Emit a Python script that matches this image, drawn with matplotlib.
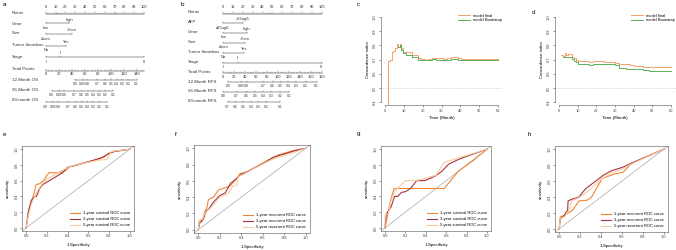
import numpy as np
import matplotlib
matplotlib.use("Agg")
import matplotlib.pyplot as plt

plt.rcParams["font.family"] = ["Liberation Sans", "DejaVu Sans"]

W, H = 676, 250
FS = 3.2

# ---------------- nomogram a (OS) ----------------
a_gene = [("low", 0), ("high", 24)]
a_size = [("\u22645cm", 0), (">5cm", 27)]
a_thrombus = [("No", 0), ("Yes", 21)]
a_stage = [("I", 0), ("II", 15), ("III", 100)]
a_total_max = 150
a_surv_labels = ["0.9", "0.85", "0.8", "0.7", "0.6", "0.5", "0.4", "0.3", "0.2", "0.1"]
a_os12 = [44.7, 56.4, 63.6, 78.8, 90.5, 99.7, 108.3, 117.0, 126.0, 138.8]
a_os36 = [9.2, 20.8, 28.0, 43.2, 55.0, 64.0, 72.7, 81.4, 90.4, 103.2]
a_os60 = [0.0, 11.6, 18.8, 34.0, 45.8, 55.0, 63.6, 72.3, 81.3, 94.0]

# ---------------- nomogram b (RFS) ----------------
b_afp = [("\u226425ug/L", 0), (">25ug/L", 20)]
b_gene = [("low", 0), ("high", 24)]
b_size = [("\u22645cm", 0), (">5cm", 22)]
b_thrombus = [("No", 0), ("Yes", 21)]
b_stage = [("I", 0), ("II", 14.6), ("III", 100)]
b_total_max = 180
b_rfs12_labels = ["0.9", "0.85", "0.8", "0.7", "0.6", "0.5", "0.4", "0.3", "0.2", "0.1"]
b_rfs12 = [9.2, 32.3, 42.7, 73.2, 90.3, 104.9, 118.9, 133.0, 150.6, 170.8]
b_rfs36_labels = ["0.8", "0.7", "0.6", "0.5", "0.4", "0.3", "0.2", "0.1"]
b_rfs36 = [0.0, 24.4, 42.7, 58.0, 73.2, 87.3, 103.7, 120.2]
b_rfs60_labels = ["0.7", "0.6", "0.5", "0.4", "0.3", "0.2", "0.1"]
b_rfs60 = [7.9, 22.6, 36.6, 50.6, 64.0, 78.0, 103.7]

# ---------------- concordance index c, d ----------------
c_time = [1.0, 1.8, 2.5, 3.5, 4.5, 5.5, 6.2, 7.0, 7.8, 8.5, 9.5, 11, 13, 14.5, 16, 17.5,
          19, 21, 23, 25, 27, 29, 31, 33, 35, 37, 39, 40.5, 45, 50, 55, 60]
c_final = [0.35, 0.69, 0.70, 0.75, 0.76, 0.78, 0.81, 0.79, 0.81, 0.78, 0.755, 0.75, 0.75,
           0.73, 0.73, 0.71, 0.705, 0.70, 0.705, 0.71, 0.71, 0.71, 0.705, 0.71, 0.715,
           0.715, 0.71, 0.705, 0.705, 0.705, 0.705, 0.705]
c_boot = [np.nan, np.nan, np.nan, np.nan, np.nan, np.nan, np.nan, 0.79, 0.80, 0.77, 0.745,
          0.735, 0.735, 0.72, 0.715, 0.70, 0.695, 0.70, 0.70, 0.705, 0.70, 0.70, 0.70,
          0.70, 0.705, 0.705, 0.70, 0.695, 0.695, 0.695, 0.695, 0.695]

d_time = [1, 2, 3, 4, 5, 6, 7, 8, 9, 10, 12, 14, 16, 18, 20, 22, 24, 26, 28, 30, 32, 34,
          36, 38, 40, 42, 45, 48, 52, 56, 60]
d_final = [0.735, 0.725, 0.745, 0.735, 0.74, 0.74, 0.72, 0.71, 0.70, 0.69, 0.69, 0.69,
           0.685, 0.69, 0.69, 0.69, 0.685, 0.685, 0.685, 0.675, 0.665, 0.665, 0.665,
           0.66, 0.655, 0.655, 0.65, 0.645, 0.645, 0.645, 0.645]
d_boot = [np.nan, 0.72, 0.715, 0.715, 0.715, 0.715, 0.705, 0.69, 0.68, 0.67, 0.665, 0.665,
          0.66, 0.665, 0.665, 0.67, 0.665, 0.665, 0.665, 0.66, 0.64, 0.64, 0.635, 0.635,
          0.635, 0.63, 0.625, 0.62, 0.62, 0.62, 0.62]

# ---------------- ROC curves e-h ----------------
e_fpr1 = [0, 0.016, 0.03, 0.064, 0.096, 0.128, 0.176, 0.19, 0.22, 0.32, 0.37, 0.43, 0.53, 0.69, 0.78, 0.85, 1]
e_tpr1 = [0, 0.127, 0.25, 0.38, 0.55, 0.56, 0.61, 0.65, 0.70, 0.70, 0.72, 0.78, 0.82, 0.865, 0.93, 0.97, 1]
e_fpr3 = [0, 0.02, 0.05, 0.08, 0.10, 0.13, 0.16, 0.25, 0.35, 0.40, 0.5, 0.6, 0.75, 0.80, 0.85, 1]
e_tpr3 = [0, 0.2, 0.35, 0.40, 0.40, 0.50, 0.55, 0.62, 0.70, 0.77, 0.80, 0.84, 0.90, 0.95, 0.97, 1]
e_fpr5 = [0, 0.02, 0.05, 0.10, 0.15, 0.20, 0.28, 0.36, 0.45, 0.55, 0.70, 0.78, 0.82, 1]
e_tpr5 = [0, 0.15, 0.30, 0.45, 0.55, 0.62, 0.68, 0.74, 0.79, 0.82, 0.86, 0.87, 0.97, 1]

f_fpr1 = [0, 0.01, 0.04, 0.06, 0.08, 0.094, 0.14, 0.19, 0.24, 0.30, 0.35, 0.39, 0.44, 0.63, 0.75, 0.88, 1]
f_tpr1 = [0, 0.11, 0.12, 0.22, 0.27, 0.37, 0.40, 0.49, 0.51, 0.54, 0.62, 0.69, 0.70, 0.84, 0.92, 0.97, 1]
f_fpr3 = [0, 0.01, 0.03, 0.05, 0.07, 0.10, 0.13, 0.17, 0.20, 0.25, 0.30, 0.35, 0.40, 0.45, 0.6, 0.7, 0.8, 0.9, 1]
f_tpr3 = [0, 0.08, 0.10, 0.14, 0.22, 0.26, 0.32, 0.38, 0.42, 0.45, 0.57, 0.62, 0.68, 0.71, 0.81, 0.89, 0.93, 0.97, 1]
f_fpr5 = [0, 0.01, 0.04, 0.06, 0.10, 0.14, 0.20, 0.25, 0.28, 0.32, 0.36, 0.37, 0.42, 0.5, 0.62, 0.7, 0.85, 1]
f_tpr5 = [0, 0.12, 0.13, 0.20, 0.25, 0.30, 0.40, 0.42, 0.45, 0.53, 0.55, 0.65, 0.68, 0.74, 0.82, 0.87, 0.93, 1]

g_fpr1 = [0, 0.03, 0.06, 0.09, 0.58, 0.72, 0.86, 1]
g_tpr1 = [0, 0.2, 0.38, 0.5, 0.5, 0.72, 0.85, 1]
g_fpr3 = [0, 0.01, 0.06, 0.094, 0.125, 0.16, 0.2, 0.25, 0.31, 0.39, 0.48, 0.55, 0.625, 0.73, 1]
g_tpr3 = [0, 0.17, 0.27, 0.40, 0.40, 0.45, 0.46, 0.50, 0.60, 0.60, 0.65, 0.71, 0.81, 0.875, 1]
g_fpr5 = [0, 0, 0.03, 0.06, 0.09, 0.12, 0.2, 0.3, 0.4, 0.5, 0.58, 0.7, 0.85, 1]
g_tpr5 = [0, 0.17, 0.17, 0.35, 0.45, 0.5, 0.6, 0.6, 0.63, 0.67, 0.83, 0.88, 0.94, 1]

h_fpr1 = [0, 0.01, 0.05, 0.125, 0.19, 0.27, 0.31, 0.41, 0.53, 0.61, 0.69, 1]
h_tpr1 = [0, 0.15, 0.17, 0.23, 0.35, 0.36, 0.40, 0.63, 0.69, 0.71, 0.82, 1]
h_fpr3 = [0, 0.01, 0.05, 0.07, 0.08, 0.085, 0.12, 0.19, 0.25, 0.35, 0.42, 0.5, 0.6, 0.7, 1]
h_tpr3 = [0, 0.12, 0.17, 0.22, 0.22, 0.35, 0.37, 0.40, 0.50, 0.60, 0.67, 0.73, 0.77, 0.83, 1]
h_fpr5 = [0, 0.01, 0.05, 0.1, 0.12, 0.2, 0.3, 0.4, 0.5, 0.6, 0.7, 1]
h_tpr5 = [0, 0.13, 0.15, 0.25, 0.35, 0.40, 0.50, 0.62, 0.70, 0.75, 0.82, 1]

ORANGE = "#F4A26E"
GREEN = "#5BB25A"
C1, C3, C5 = "#EE8636", "#A5343F", "#F6CDA2"
LINE = "#333333"


def frac(x0, y0, x1, y1):
    return [x0 / W, 1 - y1 / H, (x1 - x0) / W, (y1 - y0) / H]


fig = plt.figure(figsize=(6.76, 2.5), dpi=100)


# ---------------- nomogram helpers ----------------
def nomo_axes(px0, px1, zero_px, scale=0.983):
    ax = fig.add_axes(frac(px0, 0, px1, 120))
    ax.set_xlim(-(zero_px - px0) / scale, (px1 - zero_px) / scale)
    ax.set_ylim(120, 0)
    ax.axis("off")
    return ax


def row_label(ax, xl, y, text):
    ax.text(xl, y, text, fontsize=FS, ha="left", va="center", color=LINE)


def points_axis(ax, y, lab_y):
    ax.plot([0, 100], [y, y], color=LINE, lw=0.35)
    for v in range(0, 101, 2):
        ax.plot([v, v], [y, y - (1.6 if v % 10 == 0 else 0.9)], color=LINE, lw=0.3)
    for v in range(0, 101, 10):
        ax.text(v, lab_y, str(v), fontsize=FS - 0.3, ha="center", va="center", color=LINE)


def total_axis(ax, y, lab_y, tmax):
    k = 100 / tmax
    ax.plot([0, 100], [y, y], color=LINE, lw=0.35)
    for v in range(0, tmax + 1, 5):
        ax.plot([v * k, v * k], [y, y - (1.6 if v % 20 == 0 else 0.9)], color=LINE, lw=0.3)
    for v in range(0, tmax + 1, 20):
        ax.text(v * k, lab_y, str(v), fontsize=FS - 0.3, ha="center", va="center", color=LINE)


def factor_row(ax, y, levels, up, down):
    pts = [p for _, p in levels]
    ax.plot([min(pts), max(pts)], [y, y], color=LINE, lw=0.35)
    for i, (lab, p) in enumerate(levels):
        ax.plot([p, p], [y, y - 1.2], color=LINE, lw=0.3)
        if len(levels) > 2:
            above = i == 1
        else:
            above = i == len(levels) - 1
        ax.text(p, up if above else down, lab, fontsize=FS - 0.3,
                ha="center", va="center", color=LINE)


def prob_row(ax, y, lab_y, pos, labels, tmax):
    k = 100 / tmax
    ax.plot([pos[0] * k, pos[-1] * k], [y, y], color=LINE, lw=0.35)
    for p, lab in zip(pos, labels):
        ax.plot([p * k, p * k], [y, y - 1.2], color=LINE, lw=0.3)
        ax.text(p * k, lab_y, lab, fontsize=FS - 0.8, ha="center", va="center", color=LINE)


# panel a
axa = nomo_axes(0, 170, 45.7)
xl = (12 - 45.7) / 0.983
row_label(axa, xl, 13, "Points"); points_axis(axa, 14, 7)
row_label(axa, xl, 24, "Gene"); factor_row(axa, 23, a_gene, 20, 28)
row_label(axa, xl, 33, "Size"); factor_row(axa, 34, a_size, 30, 39)
row_label(axa, xl, 45, "Tumor thrombus"); factor_row(axa, 46, a_thrombus, 42, 50)
row_label(axa, xl, 57, "Stage"); factor_row(axa, 57, a_stage, 53, 62)
row_label(axa, xl, 69, "Total Points"); total_axis(axa, 71, 74, a_total_max)
row_label(axa, xl, 80, "12-Month OS"); prob_row(axa, 80, 84, a_os12, a_surv_labels, a_total_max)
row_label(axa, xl, 90, "36-Month OS"); prob_row(axa, 91, 95, a_os36, a_surv_labels, a_total_max)
row_label(axa, xl, 100, "60-month OS"); prob_row(axa, 102, 107, a_os60, a_surv_labels, a_total_max)

# panel b
axb = nomo_axes(165, 335, 223.3)
xl = (188 - 223.3) / 0.983
row_label(axb, xl, 12, "Points"); points_axis(axb, 14, 7)
row_label(axb, xl, 22, "AFP"); factor_row(axb, 23, b_afp, 19, 28)
row_label(axb, xl, 32, "Gene"); factor_row(axb, 33, b_gene, 29, 37)
row_label(axb, xl, 42, "Size"); factor_row(axb, 43, b_size, 39, 47)
row_label(axb, xl, 52, "Tumor thrombus"); factor_row(axb, 53, b_thrombus, 49, 57)
row_label(axb, xl, 62, "Stage"); factor_row(axb, 63, b_stage, 58, 67)
row_label(axb, xl, 72, "Total Points"); total_axis(axb, 73, 77, b_total_max)
row_label(axb, xl, 82, "12-Month RFS"); prob_row(axb, 82, 86, b_rfs12, b_rfs12_labels, b_total_max)
row_label(axb, xl, 91, "36-Month RFS"); prob_row(axb, 92, 96, b_rfs36, b_rfs36_labels, b_total_max)
row_label(axb, xl, 101, "60-month RFS"); prob_row(axb, 102, 107, b_rfs60, b_rfs60_labels, b_total_max)


# ---------------- concordance panels ----------------
def cindex(ax, t, final, boot):
    ax.plot(t, final, drawstyle="steps-post", color=ORANGE, lw=0.7, label="model final")
    ax.plot(t, boot, drawstyle="steps-post", color=GREEN, lw=0.7, label="model Bootstrap")
    ax.axhline(0.5, color="#BBBBBB", lw=0.5, ls=(0, (1, 1.5)))
    ax.set_xlim(-2.4, 62.4)
    ax.set_ylim(0.376, 1.024)
    ax.set_xticks(range(0, 61, 10))
    ax.set_yticks([0.4, 0.5, 0.6, 0.7, 0.8, 0.9, 1.0])
    ax.set_yticklabels(["0.4", "0.5", "0.6", "0.7", "0.8", "0.9", "1.0"], rotation=90, va="center")
    for s in ["top", "right"]:
        ax.spines[s].set_visible(False)
    ax.spines["left"].set_bounds(0.4, 1.0)
    ax.spines["bottom"].set_bounds(0, 60)
    for s in ["left", "bottom"]:
        ax.spines[s].set_linewidth(0.4)
        ax.spines[s].set_color("#555555")
    ax.tick_params(labelsize=FS - 0.3, length=1.5, width=0.4, pad=1, colors="#444444")
    ax.set_xlabel("Time (Month)", fontsize=FS, labelpad=2.5)
    ax.set_ylabel("Concordance index", fontsize=FS, labelpad=2)
    ax.legend(loc="upper right", frameon=False, fontsize=FS - 0.3, handlelength=3,
              borderaxespad=0.3, labelspacing=0.2, bbox_to_anchor=(1.02, 1.03))


axc = fig.add_axes(frac(380.5, 13.6, 502.5, 105.4))
cindex(axc, c_time, c_final, c_boot)
axd = fig.add_axes(frac(554.5, 13.6, 675.5, 105.4))
cindex(axd, d_time, d_final, d_boot)


# ---------------- ROC panels ----------------
def roc(ax, curves, kind):
    ax.axline((0, 0), (1, 1), color="#A8A8A8", lw=0.5)
    for (fx, ty), col, yr in zip(curves, [C1, C3, C5], [1, 3, 5]):
        ax.plot(fx, ty, color=col, lw=0.8, label=f"{yr}-year {kind} ROC curve")
    ax.set_xlim(-0.04, 1.04)
    ax.set_ylim(-0.04, 1.04)
    ticks = [0, 0.2, 0.4, 0.6, 0.8, 1.0]
    ax.set_xticks(ticks)
    ax.set_xticklabels(["0.0", "0.2", "0.4", "0.6", "0.8", "1.0"])
    ax.set_yticks(ticks)
    ax.set_yticklabels(["0.0", "0.2", "0.4", "0.6", "0.8", "1.0"], rotation=90, va="center")
    for s in ax.spines.values():
        s.set_linewidth(0.4)
        s.set_color("#555555")
    ax.tick_params(labelsize=FS - 0.3, length=1.5, width=0.4, pad=1, colors="#444444")
    ax.set_xlabel("1-Specificity", fontsize=FS, labelpad=3)
    ax.set_ylabel("sensitivity", fontsize=FS, labelpad=3)
    ax.legend(loc="lower right", frameon=False, fontsize=FS - 0.3, handlelength=2.5,
              borderaxespad=0.5, labelspacing=0.5)


axe = fig.add_axes(frac(22, 146, 134, 231))
roc(axe, [(e_fpr1, e_tpr1), (e_fpr3, e_tpr3), (e_fpr5, e_tpr5)], "survival")
axf = fig.add_axes(frac(194, 145, 310, 233))
roc(axf, [(f_fpr1, f_tpr1), (f_fpr3, f_tpr3), (f_fpr5, f_tpr5)], "recurrent")
axg = fig.add_axes(frac(381, 146, 491, 231))
roc(axg, [(g_fpr1, g_tpr1), (g_fpr3, g_tpr3), (g_fpr5, g_tpr5)], "survival")
axh = fig.add_axes(frac(555, 146, 668, 232))
roc(axh, [(h_fpr1, h_tpr1), (h_fpr3, h_tpr3), (h_fpr5, h_tpr5)], "recurrent")

# panel letters
for lab, x, y in [("a", 3, 4), ("b", 181, 5), ("c", 357, 5), ("d", 532, 13),
                  ("e", 3, 134), ("f", 175, 134), ("g", 357, 134), ("h", 528, 135)]:
    fig.text(x / W, 1 - y / H, lab, fontsize=4.5, ha="left", va="center")

fig.savefig("out.png", dpi=100)
